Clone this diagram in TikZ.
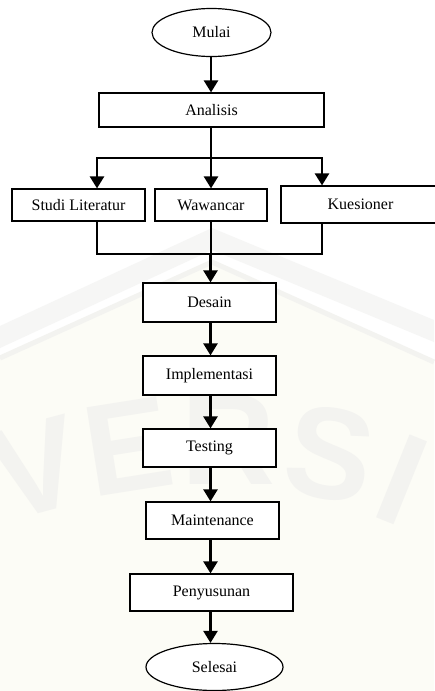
\documentclass[tikz,border=0pt]{standalone}
\usepackage{fontspec}
\setmainfont{Liberation Serif}
\newfontfamily\wmfont{Liberation Sans}
\usetikzlibrary{shapes.geometric,arrows.meta}
\definecolor{wmgray}{RGB}{243,243,240}
\definecolor{wmband}{RGB}{246,246,245}
\definecolor{wmcream}{RGB}{252,252,246}

\begin{document}
\begin{tikzpicture}[x=1pt,y=-1pt,
  label font/.style={font=\fontsize{16}{19}\selectfont},
  stepbox/.style={draw, line width=1.2pt, fill=white, rectangle, inner sep=0pt, label font},
  term/.style={draw, line width=1.2pt, fill=white, ellipse, inner sep=0pt, label font},
  flow/.style={line width=2.4pt, line join=miter},
  arr/.style={flow, -{Triangle[width=14pt,length=12pt]}},
  wm/.style={text=wmgray, font=\wmfont\bfseries\fontsize{130}{130}\selectfont, inner sep=0pt}]

% page and faint background emblem
\useasboundingbox (0,0) rectangle (434,691);
\fill[white] (0,0) rectangle (434,691);
\fill[wmcream] (0,358) -- (212,262) -- (434,362) -- (434,691) -- (0,691) -- cycle;
\fill[wmband] (0,326) -- (212,228) -- (434,320) -- (434,342) -- (212,250) -- (0,348) -- cycle;
\draw[wmgray, line width=5pt] (0,358) -- (212,262) -- (434,362);
\node[wm, rotate=15] (wmV) at (36,468) {V};
\node[wm, rotate=9]  (wmE) at (128,447) {E};
\node[wm, rotate=0]  (wmR) at (228,440) {R};
\node[wm, rotate=-10] (wmS) at (330,454) {S};
\node[wm, rotate=-22] (wmI) at (402,480) {I};

% flow steps
\node[term, minimum width=119pt, minimum height=48pt] (mulai) at (211.5,32.5) {Mulai};
\node[stepbox, minimum width=225pt, minimum height=34pt] (analisis) at (211.5,110) {Analisis};
\node[stepbox, minimum width=133pt, minimum height=32pt] (studi) at (78.5,205) {Studi Literatur};
\node[stepbox, minimum width=112pt, minimum height=32pt] (wawan) at (211,205) {Wawancar};
\node[stepbox, minimum width=159pt, minimum height=37pt] (kues) at (360.5,204.5) {Kuesioner};
\node[stepbox, minimum width=133pt, minimum height=39pt] (desain) at (209.5,302.5) {Desain};
\node[stepbox, minimum width=133pt, minimum height=39pt] (impl) at (209.5,375.5) {Implementasi};
\node[stepbox, minimum width=133pt, minimum height=38pt] (testing) at (209.5,448) {Testing};
\node[stepbox, minimum width=133pt, minimum height=37pt] (maint) at (212.5,520.5) {Maintenance};
\node[stepbox, minimum width=163pt, minimum height=37pt] (peny) at (211.5,592.5) {Penyusunan};
\node[term, minimum width=137pt, minimum height=47pt] (selesai) at (214.5,667) {Selesai};

% junction points
\coordinate (split) at (211,158);
\coordinate (splitL) at (97,158);
\coordinate (splitR) at (322,158);
\coordinate (merge) at (210.5,254);
\coordinate (spine) at (210.5,0);

% connectors
\draw[arr] (mulai.south -| split) -- (analisis.north -| split);
\draw[flow] (analisis.south -| split) -- (split);
\draw[arr] (split) -| (splitL |- studi.north);
\draw[arr] (split) -| (splitR |- kues.north);
\draw[arr] (split) -- (split |- wawan.north);
\draw[flow] (splitL |- studi.south) |- (merge);
\draw[flow] (splitR |- kues.south) |- (merge);
\draw[flow] (wawan.south) -- (wawan.south |- merge);
\draw[arr] (merge) -- (merge |- desain.north);
\draw[arr] (desain.south -| spine) -- (impl.north -| spine);
\draw[arr] (impl.south -| spine) -- (testing.north -| spine);
\draw[arr] (testing.south -| spine) -- (maint.north -| spine);
\draw[arr] (maint.south -| spine) -- (peny.north -| spine);
\draw[arr] (peny.south -| spine) -- (selesai.north -| spine);
\end{tikzpicture}
\end{document}
